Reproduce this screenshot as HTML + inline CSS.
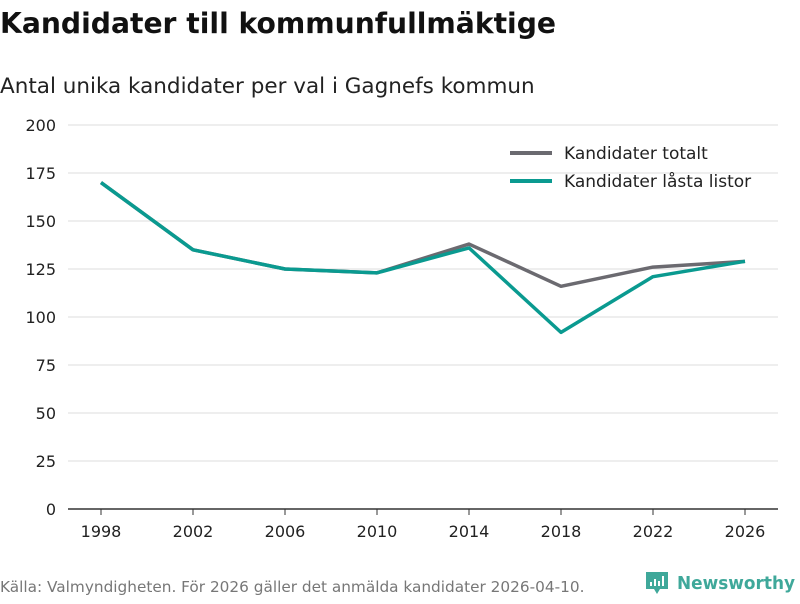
<!DOCTYPE html>
<html><head><meta charset="utf-8"><style>
body{margin:0;width:800px;height:600px;background:#fff;font-family:"DejaVu Sans","Liberation Sans",sans-serif;overflow:hidden}
</style></head><body>
<svg id="c" width="800" height="600" xmlns="http://www.w3.org/2000/svg">
<text x="0" y="33" font-size="28.2" font-weight="bold" fill="#111">Kandidater till kommunfullmäktige</text>
<text x="0" y="93" font-size="21.5" fill="#222">Antal unika kandidater per val i Gagnefs kommun</text>
<g id="grid"></g><g id="series"></g>
<g>
<g><line x1="510" y1="153" x2="552" y2="153" stroke="#6b6a70" stroke-width="4"/><text x="564" y="159" font-size="17" fill="#222">Kandidater totalt</text></g>
<g><line x1="510" y1="181" x2="552" y2="181" stroke="#0a9a90" stroke-width="4"/><text x="564" y="187" font-size="17" fill="#222">Kandidater låsta listor</text></g>
</g>
<text x="0" y="592" font-size="15.3" fill="#777">Källa: Valmyndigheten. För 2026 gäller det anmälda kandidater 2026-04-10.</text>
<g>
<path d="M646 572h22v17h-8l-3 5-3-5h-8z" fill="#3fa89a"/>
<rect x="650" y="582" width="2" height="4" fill="#fff"/><rect x="654" y="579" width="2" height="7" fill="#fff"/><rect x="658" y="581" width="2" height="5" fill="#fff"/><rect x="662" y="576" width="2" height="10" fill="#fff"/>
<text x="677" y="589" font-size="18" font-weight="bold" fill="#3fa89a" textLength="118" lengthAdjust="spacingAndGlyphs">Newsworthy</text>
</g>
</svg>
<script>
const years=[1998,2002,2006,2010,2014,2018,2022,2026];
const totalt=[170,135,125,123,138,116,126,129];
const lasta=[170,135,125,123,136,92,121,129];
const yTicks=[0,25,50,75,100,125,150,175,200];
const NS="http://www.w3.org/2000/svg";
const x=y=>101+(y-1998)*23;
const yv=v=>509-v*1.92;
const grid=document.getElementById('grid'),ser=document.getElementById('series');
function mk(t,a,p){const e=document.createElementNS(NS,t);for(const k in a)e.setAttribute(k,a[k]);p.appendChild(e);return e;}
yTicks.forEach(v=>{
 const l=mk('line',{x1:68,x2:778,y1:yv(v),y2:yv(v),stroke:v===0?'#333':'#ddd','stroke-width':v===0?1.5:1},grid);
 
 
 const t=mk('text',{x:56,y:yv(v)+6,'font-size':16,fill:'#222','text-anchor':'end'},grid);t.textContent=v;
 
 
});
years.forEach(yr=>{
 mk('line',{x1:x(yr),x2:x(yr),y1:509,y2:515,stroke:'#333'},grid);
 const t=mk('text',{x:x(yr),y:537,'font-size':16,fill:'#222','text-anchor':'middle'},grid);t.textContent=yr;
 
 
});
function line(d,c,n){const p=mk('polyline',{points:d.map((v,i)=>x(years[i])+','+yv(v)).join(' '),fill:'none',stroke:c,'stroke-width':3.5,'stroke-linejoin':'round'},ser);
 
 }
line(totalt,'#6b6a70','line-totalt');
line(lasta,'#0a9a90','line-lasta');
</script>
</body></html>
